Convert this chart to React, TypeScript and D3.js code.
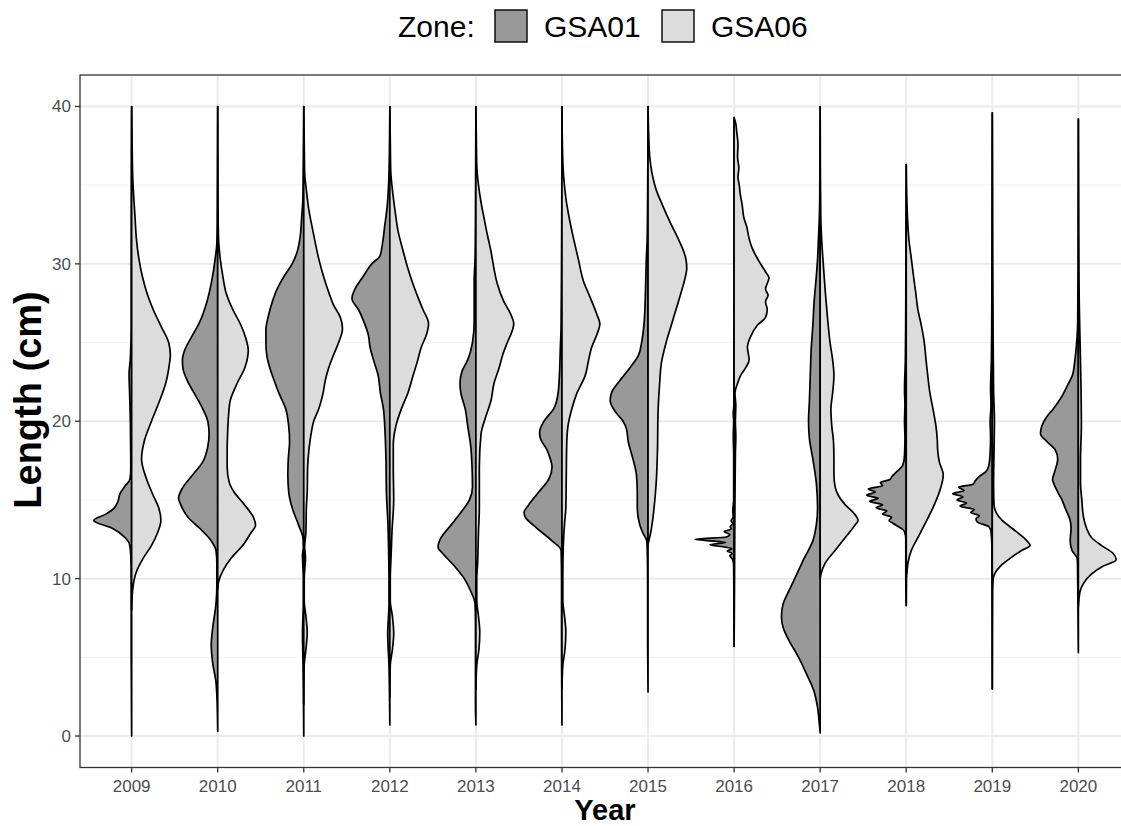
import * as d3 from "d3";

const W = 1121;
const H = 826;
const FONT = "'Liberation Sans', Arial, Helvetica, sans-serif";

const years = ["2009", "2010", "2011", "2012", "2013", "2014", "2015", "2016", "2017", "2018", "2019", "2020"];
const yTicks = [0, 10, 20, 30, 40];
const yMinor = [5, 15, 25, 35];
const zones = ["GSA01", "GSA06"];
const zoneFill = ["#999999", "#dcdcdc"];

// density profiles: [length (cm), relative density]
const gsa01: [number, number][][] = [
  // 2009
  [[0, 0], [5, 0.01], [10, 0.01], [11.5, 0.02], [12.2, 0.05], [12.6, 0.15], [13.2, 0.45], [13.7, 0.88], [14.1, 0.6], [14.5, 0.4], [14.9, 0.32], [15.4, 0.27], [15.9, 0.15], [16.3, 0.04], [17, 0.02], [20, 0.03], [22, 0.05], [23, 0.06], [24, 0.03], [26, 0.01], [30, 0.01], [40, 0]],
  // 2010
  [[0.3, 0], [2.6, 0.02], [3.4, 0.04], [4.7, 0.12], [5.8, 0.15], [6.8, 0.12], [8.4, 0.04], [9.5, 0.02], [11, 0.02], [11.8, 0.04], [12.4, 0.15], [13.2, 0.42], [13.9, 0.69], [14.7, 0.86], [15.1, 0.91], [15.8, 0.81], [16.6, 0.58], [17.4, 0.35], [18.4, 0.23], [19.2, 0.2], [20, 0.23], [20.8, 0.35], [21.8, 0.55], [22.6, 0.71], [23.4, 0.81], [23.9, 0.82], [24.5, 0.77], [25.3, 0.62], [26.3, 0.42], [27.6, 0.25], [28.9, 0.14], [30.3, 0.06], [31.3, 0.02], [32.9, 0.01], [40, 0]],
  // 2011
  [[0, 0], [3, 0.01], [5, 0.02], [6.6, 0.03], [8.4, 0.01], [10, 0.01], [11.5, 0.03], [12, 0.01], [12.6, 0.02], [13.4, 0.12], [14.5, 0.27], [15.5, 0.35], [16.6, 0.37], [17.6, 0.36], [18.7, 0.33], [19.7, 0.35], [20.8, 0.42], [21.8, 0.58], [22.6, 0.69], [23.4, 0.79], [24.2, 0.86], [25, 0.88], [25.8, 0.88], [26.6, 0.83], [27.6, 0.73], [28.4, 0.62], [29.2, 0.46], [30, 0.27], [30.8, 0.15], [31.6, 0.09], [32.9, 0.05], [34.2, 0.02], [35.5, 0.015], [38, 0.005], [40, 0]],
  // 2012
  [[0.7, 0], [3, 0.01], [4.5, 0.02], [6.5, 0.05], [8.4, 0.02], [10, 0.02], [12, 0.03], [13.2, 0.04], [15.5, 0.08], [17.6, 0.09], [19.2, 0.11], [20.8, 0.15], [21.8, 0.22], [22.9, 0.27], [23.9, 0.38], [24.7, 0.46], [25.5, 0.5], [26.3, 0.6], [27.1, 0.73], [27.8, 0.88], [28.4, 0.81], [29.2, 0.62], [30, 0.42], [30.5, 0.23], [31.3, 0.17], [32.4, 0.12], [33.7, 0.06], [35, 0.03], [37, 0.01], [40, 0]],
  // 2013
  [[0.7, 0], [2, 0.01], [5, 0.01], [7, 0.01], [8.4, 0.02], [9.2, 0.12], [10, 0.27], [10.8, 0.5], [11.6, 0.77], [12, 0.88], [12.6, 0.81], [13.4, 0.58], [14.2, 0.35], [15, 0.15], [15.8, 0.08], [17.1, 0.09], [18.4, 0.12], [19.7, 0.19], [20.8, 0.25], [21.8, 0.35], [22.4, 0.37], [23.2, 0.32], [23.9, 0.19], [25, 0.08], [26.3, 0.04], [28.9, 0.04], [30.3, 0.02], [32.9, 0.01], [40, 0]],
  // 2014
  [[0.7, 0], [5, 0.01], [10, 0.01], [11.8, 0.02], [12.4, 0.23], [13.2, 0.58], [13.9, 0.85], [14.2, 0.88], [14.7, 0.77], [15.5, 0.54], [16.3, 0.31], [17.1, 0.23], [17.6, 0.27], [18.2, 0.35], [18.9, 0.5], [19.3, 0.52], [20, 0.42], [20.8, 0.19], [21.8, 0.09], [22.9, 0.06], [24.5, 0.04], [26.1, 0.02], [30.3, 0.01], [40, 0]],
  // 2015
  [[2.8, 0], [6, 0.01], [10, 0.01], [12, 0.02], [12.4, 0.03], [12.9, 0.12], [13.4, 0.19], [14.5, 0.25], [15.5, 0.25], [16.6, 0.27], [17.6, 0.35], [18.7, 0.46], [19.5, 0.5], [20, 0.58], [20.5, 0.73], [21.3, 0.88], [21.8, 0.85], [22.6, 0.65], [23.4, 0.42], [24.2, 0.22], [25, 0.15], [26.3, 0.09], [28.2, 0.06], [30.3, 0.04], [31.6, 0.02], [34, 0.01], [40, 0]],
  // 2016
  [[5.7, 0], [9, 0.005], [10.8, 0.01], [11.2, 0.03], [11.45, 0.1], [11.6, 0.04], [11.75, 0.16], [11.9, 0.05], [12.0, 0.2], [12.15, 0.56], [12.3, 0.2], [12.5, 0.91], [12.65, 0.18], [12.8, 0.1], [13.0, 0.23], [13.15, 0.06], [13.3, 0.09], [13.5, 0.03], [13.7, 0.07], [13.9, 0.02], [14.3, 0.03], [15, 0.01], [18, 0.01], [19, 0.02], [20, 0.01], [20.5, 0.02], [21, 0.005], [25, 0.002], [39.3, 0]],
  // 2017
  [[0.2, 0], [0.8, 0.02], [1.8, 0.06], [2.9, 0.15], [3.9, 0.31], [5, 0.5], [6.1, 0.73], [6.8, 0.85], [7.6, 0.9], [8.4, 0.86], [9.2, 0.73], [10.3, 0.54], [11.3, 0.37], [12.4, 0.17], [13.4, 0.09], [14.5, 0.06], [16.1, 0.09], [17.6, 0.17], [18.9, 0.25], [20, 0.27], [21.3, 0.25], [22.9, 0.23], [24.5, 0.21], [26.1, 0.17], [27.6, 0.14], [29.2, 0.09], [30.3, 0.06], [31.6, 0.04], [32.9, 0.02], [34.2, 0.01], [40, 0]],
  // 2018
  [[8.3, 0], [10, 0.01], [12.5, 0.01], [13.0, 0.04], [13.2, 0.12], [13.5, 0.3], [13.7, 0.4], [13.9, 0.34], [14.1, 0.55], [14.3, 0.45], [14.5, 0.7], [14.7, 0.55], [14.9, 0.85], [15.1, 0.65], [15.3, 0.92], [15.5, 0.72], [15.7, 0.88], [15.9, 0.55], [16.1, 0.6], [16.3, 0.38], [16.5, 0.33], [16.8, 0.22], [17.2, 0.08], [17.8, 0.04], [19, 0.03], [20, 0.04], [21, 0.03], [22, 0.04], [24, 0.02], [28, 0.01], [33, 0.005], [36.3, 0]],
  // 2019
  [[3, 0], [8, 0.005], [12, 0.01], [13.0, 0.03], [13.3, 0.08], [13.6, 0.35], [13.8, 0.38], [14.0, 0.3], [14.2, 0.5], [14.4, 0.42], [14.6, 0.75], [14.8, 0.6], [15.0, 0.82], [15.2, 0.68], [15.4, 0.92], [15.6, 0.65], [15.8, 0.78], [16.0, 0.45], [16.2, 0.4], [16.5, 0.3], [16.8, 0.15], [17.2, 0.08], [18, 0.05], [19, 0.04], [20, 0.05], [21, 0.03], [22, 0.04], [24, 0.02], [28, 0.01], [35, 0.005], [39.6, 0]],
  // 2020
  [[5.3, 0], [8, 0.01], [11, 0.02], [11.3, 0.03], [11.8, 0.15], [12.4, 0.19], [13.2, 0.17], [13.7, 0.19], [14.5, 0.31], [15, 0.38], [15.5, 0.48], [16.1, 0.58], [16.3, 0.6], [16.8, 0.55], [17.6, 0.48], [18.2, 0.54], [18.7, 0.73], [19.2, 0.88], [19.7, 0.85], [20.3, 0.73], [20.8, 0.58], [21.6, 0.38], [22.4, 0.23], [22.9, 0.14], [23.9, 0.08], [25, 0.04], [26.3, 0.015], [30, 0.005], [39.2, 0]],
];

const gsa06: [number, number][][] = [
  // 2009
  [[8, 0], [9.2, 0.02], [10.5, 0.12], [11.3, 0.27], [12.1, 0.46], [12.9, 0.6], [13.7, 0.68], [14.5, 0.63], [15.3, 0.5], [16.3, 0.35], [17.6, 0.23], [18.7, 0.29], [20, 0.46], [21.3, 0.65], [22.4, 0.79], [23.7, 0.88], [24.2, 0.9], [25, 0.86], [26, 0.69], [27.1, 0.5], [28.2, 0.35], [29.2, 0.25], [30.3, 0.17], [31.6, 0.11], [32.9, 0.08], [34.2, 0.05], [35.5, 0.025], [38, 0.01], [40, 0]],
  // 2010
  [[9.3, 0], [9.8, 0.02], [10.5, 0.12], [11.3, 0.31], [12.1, 0.58], [12.9, 0.77], [13.4, 0.88], [13.9, 0.83], [14.7, 0.62], [15.5, 0.38], [16.1, 0.27], [17.1, 0.22], [18.2, 0.22], [19.2, 0.23], [20.3, 0.25], [21.3, 0.29], [22.4, 0.45], [23.4, 0.63], [24.5, 0.71], [25.3, 0.65], [26.1, 0.54], [27.1, 0.35], [28.2, 0.19], [29.2, 0.12], [30.3, 0.06], [31.6, 0.02], [33, 0.01], [40, 0]],
  // 2011
  [[2, 0], [4.5, 0.01], [5.5, 0.05], [6.6, 0.08], [7.6, 0.05], [8.6, 0.01], [10, 0.01], [11.3, 0.04], [12, 0.02], [13, 0.05], [14.5, 0.06], [15.5, 0.08], [17.1, 0.09], [18.2, 0.12], [19.2, 0.17], [20, 0.23], [20.8, 0.35], [21.8, 0.45], [22.6, 0.5], [23.4, 0.58], [24.2, 0.69], [25, 0.81], [25.9, 0.9], [26.6, 0.85], [27.4, 0.69], [28.2, 0.58], [29.2, 0.46], [30.3, 0.35], [31.3, 0.27], [32.4, 0.19], [33.4, 0.12], [34.7, 0.06], [35.8, 0.02], [38, 0.01], [40, 0]],
  // 2012
  [[2.5, 0], [4.5, 0.01], [5.5, 0.06], [6.5, 0.09], [7.6, 0.06], [8.6, 0.01], [10, 0.01], [11.5, 0.03], [13, 0.05], [15, 0.09], [17, 0.08], [18.5, 0.08], [19.7, 0.14], [20.8, 0.27], [21.8, 0.42], [22.9, 0.54], [23.9, 0.65], [24.7, 0.73], [25.5, 0.85], [26.2, 0.9], [27.1, 0.77], [27.9, 0.65], [28.7, 0.54], [29.7, 0.42], [30.8, 0.31], [32.1, 0.19], [33.4, 0.12], [34.7, 0.06], [36, 0.02], [38, 0.01], [40, 0]],
  // 2013
  [[3, 0], [4.5, 0.02], [5.5, 0.07], [6.6, 0.09], [7.6, 0.06], [8.6, 0.02], [10, 0.02], [11, 0.04], [12, 0.05], [13, 0.06], [14.5, 0.08], [16, 0.08], [17.1, 0.08], [19.2, 0.12], [20.3, 0.23], [21.3, 0.35], [22.4, 0.42], [23.4, 0.54], [24.2, 0.62], [25, 0.73], [25.8, 0.85], [26.2, 0.88], [26.8, 0.81], [27.6, 0.65], [28.7, 0.5], [29.7, 0.42], [30.8, 0.35], [31.8, 0.27], [32.9, 0.19], [33.9, 0.12], [35, 0.06], [36.3, 0.02], [38, 0.01], [40, 0]],
  // 2014
  [[3, 0], [4.5, 0.02], [5.5, 0.07], [6.6, 0.09], [7.6, 0.06], [8.6, 0.02], [10, 0.02], [12, 0.03], [13.5, 0.06], [14.5, 0.09], [16.5, 0.1], [18.5, 0.11], [19.7, 0.14], [20.8, 0.23], [21.8, 0.35], [22.9, 0.54], [23.9, 0.62], [24.7, 0.69], [25.5, 0.81], [26.2, 0.88], [26.8, 0.81], [27.9, 0.65], [28.9, 0.5], [30.3, 0.38], [31.6, 0.27], [32.9, 0.17], [34.2, 0.09], [35.5, 0.04], [37.5, 0.01], [40, 0]],
  // 2015
  [[12.2, 0], [12.9, 0.06], [14.5, 0.14], [16.1, 0.19], [18.2, 0.22], [20.3, 0.23], [22.4, 0.27], [23.7, 0.31], [25, 0.42], [26.1, 0.54], [27.1, 0.65], [28.2, 0.77], [29.2, 0.87], [29.7, 0.9], [30.3, 0.88], [31, 0.8], [31.6, 0.7], [32.6, 0.52], [33.7, 0.34], [34.7, 0.19], [35.8, 0.09], [36.8, 0.04], [38.2, 0.015], [40, 0]],
  // 2016
  [[5.7, 0], [10, 0.01], [15, 0.02], [18, 0.03], [19, 0.04], [20, 0.03], [21, 0.04], [21.8, 0.02], [22.4, 0.08], [22.9, 0.15], [23.4, 0.27], [23.9, 0.35], [24.7, 0.31], [25.3, 0.37], [26.1, 0.54], [26.6, 0.73], [27.1, 0.77], [27.6, 0.73], [28, 0.79], [28.4, 0.73], [29.1, 0.81], [29.5, 0.73], [30.3, 0.55], [31, 0.42], [31.6, 0.35], [32.4, 0.29], [32.9, 0.23], [33.7, 0.19], [34.5, 0.14], [35, 0.12], [35.5, 0.09], [36.1, 0.11], [36.8, 0.08], [37.6, 0.09], [38.4, 0.06], [38.9, 0.04], [39.3, 0]],
  // 2017
  [[10, 0], [10.3, 0.02], [11, 0.12], [11.8, 0.35], [12.6, 0.58], [13.4, 0.81], [13.7, 0.88], [14.2, 0.77], [14.7, 0.58], [15.3, 0.42], [15.8, 0.35], [16.6, 0.32], [17.6, 0.32], [18.7, 0.31], [19.7, 0.27], [20.8, 0.25], [21.8, 0.29], [22.9, 0.32], [23.9, 0.29], [25, 0.23], [26.6, 0.17], [28.2, 0.12], [29.7, 0.08], [31.3, 0.04], [32.9, 0.015], [36, 0.005], [40, 0]],
  // 2018
  [[8.3, 0], [10, 0.005], [10.5, 0.02], [11, 0.04], [11.8, 0.12], [12.6, 0.27], [13.4, 0.42], [14.5, 0.62], [15.5, 0.77], [16.6, 0.86], [17.4, 0.77], [18.2, 0.73], [18.9, 0.72], [19.7, 0.69], [20.8, 0.62], [21.8, 0.55], [22.9, 0.5], [23.9, 0.46], [25, 0.42], [26.1, 0.35], [27.1, 0.27], [28.2, 0.22], [29.2, 0.17], [30.3, 0.12], [31.6, 0.06], [32.9, 0.03], [34.5, 0.01], [36.3, 0]],
  // 2019
  [[3, 0], [9, 0.005], [10, 0.02], [10.8, 0.19], [11.3, 0.42], [11.8, 0.69], [12.1, 0.88], [12.5, 0.77], [13.2, 0.46], [13.7, 0.23], [14.2, 0.09], [14.7, 0.04], [16, 0.03], [18, 0.04], [20, 0.05], [22, 0.03], [25, 0.02], [30, 0.01], [35, 0.005], [39.6, 0]],
  // 2020
  [[8.2, 0], [9.2, 0.04], [9.7, 0.12], [10.3, 0.31], [10.8, 0.58], [11.2, 0.88], [11.6, 0.81], [12.1, 0.54], [12.6, 0.31], [13.2, 0.19], [13.9, 0.12], [15, 0.08], [16.1, 0.05], [17.6, 0.05], [19.7, 0.07], [22.4, 0.06], [25, 0.04], [27.6, 0.02], [32, 0.008], [39.2, 0]],
];

const M = { left: 80, top: 75, right: 1130, bottom: 767.5 };

export default function App() {
  const x = d3.scalePoint<string>().domain(years).range([M.left, M.right]).padding(0.6);
  const y = d3.scaleLinear().domain([-2, 42]).range([M.bottom, M.top]);
  const step = x.step();
  const w = d3.scaleLinear().domain([0, 1]).range([0, step / 2]);

  const half = (cx: number, side: number) =>
    d3
      .area<[number, number]>()
      .y((d) => y(d[0]))
      .x0(cx)
      .x1((d) => cx + side * w(d[1]))
      .curve(d3.curveMonotoneY);

  const panelW = M.right - M.left;
  const panelH = M.bottom - M.top;

  return (
    <svg
      width={W}
      height={H}
      style={{ position: "absolute", left: 0, top: 0, background: "#fff", fontFamily: FONT }}
    >
      <defs>
        <clipPath id="panel">
          <rect x={M.left} y={M.top} width={panelW} height={panelH} />
        </clipPath>
      </defs>
      <rect width={W} height={H} fill="#fff" />

      <g clipPath="url(#panel)">
        {yMinor.map((t) => (
          <line key={"mn" + t} x1={M.left} x2={M.right} y1={y(t)} y2={y(t)} stroke="#f3f3f3" strokeWidth={1.1} />
        ))}
        {yTicks.map((t) => (
          <line key={"mj" + t} x1={M.left} x2={M.right} y1={y(t)} y2={y(t)} stroke="#ebebeb" strokeWidth={2} />
        ))}
        {years.map((yr) => (
          <line key={"vx" + yr} x1={x(yr)} x2={x(yr)} y1={M.top} y2={M.bottom} stroke="#ebebeb" strokeWidth={2} />
        ))}

        {years.map((yr, i) => {
          const cx = x(yr) as number;
          return (
            <g key={"v" + yr}>
              <path d={half(cx, -1)(gsa01[i]) || ""} fill={zoneFill[0]} stroke="#000" strokeWidth={1.7} strokeLinejoin="round" />
              <path d={half(cx, 1)(gsa06[i]) || ""} fill={zoneFill[1]} stroke="#000" strokeWidth={1.7} strokeLinejoin="round" />
            </g>
          );
        })}
      </g>

      {/* panel border */}
      <rect x={M.left} y={M.top} width={panelW} height={panelH} fill="none" stroke="#333" strokeWidth={1.3} />

      {/* y axis */}
      {yTicks.map((t) => (
        <g key={"yt" + t}>
          <line x1={M.left - 5} x2={M.left} y1={y(t)} y2={y(t)} stroke="#333" strokeWidth={1.3} />
          <text x={M.left - 9} y={y(t)} dy="0.35em" textAnchor="end" fontSize={17} fill="#4d4d4d">
            {t}
          </text>
        </g>
      ))}

      {/* x axis */}
      {years.map((yr) => (
        <g key={"xt" + yr}>
          <line x1={x(yr)} x2={x(yr)} y1={M.bottom} y2={M.bottom + 5} stroke="#333" strokeWidth={1.3} />
          <text x={x(yr)} y={792} textAnchor="middle" fontSize={17} fill="#4d4d4d">
            {yr}
          </text>
        </g>
      ))}

      <text x={(M.left + M.right) / 2} y={820} textAnchor="middle" fontSize={29} fontWeight="bold" fill="#000">
        Year
      </text>
      <text
        transform={`translate(41,400) rotate(-90)`}
        textAnchor="middle"
        fontSize={38}
        fontWeight="bold"
        fill="#000"
      >
        Length (cm)
      </text>

      {/* legend */}
      <g>
        <text x={398} y={37} fontSize={30} fill="#000">
          Zone:
        </text>
        {zones.map((z, i) => {
          const bx = i === 0 ? 495 : 662;
          return (
            <g key={z}>
              <rect x={bx} y={10} width={32} height={32} fill={zoneFill[i]} stroke="#000" strokeWidth={1.4} />
              <text x={bx + 49} y={37} fontSize={30} fill="#000">
                {z}
              </text>
            </g>
          );
        })}
      </g>
    </svg>
  );
}
